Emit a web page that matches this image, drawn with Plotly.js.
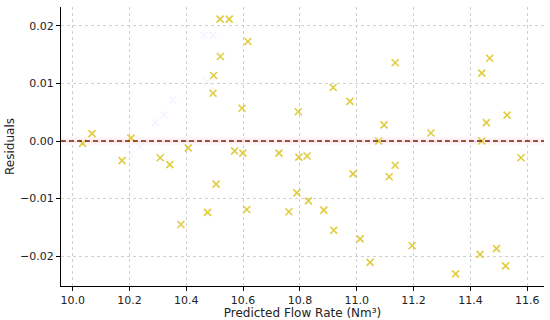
<!DOCTYPE html>
<html>
<head>
<meta charset="utf-8">
<script src="https://cdn.plot.ly/plotly-3.0.1.min.js"></script>
<style>body{margin:0;background:#fff}#chart{width:550px;height:320px}</style>
</head>
<body>
<div id="chart"></div>
<script>
// Predicted flow rate (x) and residuals (y)
const predicted = [10.035, 10.068, 10.205, 10.519, 10.551, 10.617, 10.520, 10.496, 10.494, 10.596,
  10.794, 10.917, 10.976, 11.135, 11.096, 11.261, 11.440, 11.468, 11.456, 11.529,
  11.077, 11.440, 10.174, 10.308, 10.342, 10.407, 10.570, 10.599, 10.726, 10.796,
  10.825, 10.505, 10.475, 10.613, 10.381, 10.761, 10.789, 10.830, 10.884, 10.919,
  10.987, 11.012, 11.047, 11.114, 11.135, 11.195, 11.348, 11.434, 11.492, 11.524, 11.578];
const residuals = [-0.0004, 0.0013, 0.0005, 0.0212, 0.0212, 0.0173, 0.0147, 0.0114, 0.0083, 0.0057,
  0.0051, 0.0093, 0.0069, 0.0136, 0.0028, 0.0014, 0.0118, 0.0144, 0.0032, 0.0045,
  0.0000, 0.0000, -0.0034, -0.0029, -0.0041, -0.0012, -0.0017, -0.0021, -0.0021, -0.0028,
  -0.0026, -0.0075, -0.0124, -0.0119, -0.0145, -0.0123, -0.0090, -0.0104, -0.0120, -0.0155,
  -0.0057, -0.0170, -0.0211, -0.0062, -0.0042, -0.0182, -0.0231, -0.0197, -0.0187, -0.0217, -0.0029];
// Faint background series
const fadedX = [10.461, 10.494, 10.473, 10.352, 10.322, 10.291, 10.238, 10.203];
const fadedY = [0.0184, 0.0184, 0.0103, 0.0072, 0.0045, 0.0032, -0.0010, -0.0023];
const xTicks = [10.0, 10.2, 10.4, 10.6, 10.8, 11.0, 11.2, 11.4, 11.6];
const yTicks = [-0.02, -0.01, 0.0, 0.01, 0.02];
const yTickText = ['\u22120.02', '\u22120.01', '0.00', '0.01', '0.02'];
const bandHalf = 0.0006;

const traces = [
  {x: fadedX, y: fadedY, mode: 'markers', type: 'scatter',
   marker: {symbol: 'x-thin', size: 7, line: {width: 1.5, color: 'rgba(215,225,255,0.3)'}},
   hoverinfo: 'skip', showlegend: false},
  {x: predicted, y: residuals, mode: 'markers', type: 'scatter',
   marker: {symbol: 'x-thin', size: 7, line: {width: 1.6, color: 'rgba(220,195,30,0.85)'}},
   showlegend: false}
];

const layout = {
  width: 550, height: 320,
  margin: {l: 61, r: 6, t: 7, b: 34},
  paper_bgcolor: '#fff', plot_bgcolor: '#fff',
  font: {family: 'DejaVu Sans', size: 11, color: '#222'},
  xaxis: {range: [9.959, 11.659], tickvals: xTicks, ticktext: xTicks.map(v => v.toFixed(1)),
    showgrid: true, gridcolor: '#d0d0d0', griddash: 'dot', gridwidth: 1,
    showline: true, linecolor: '#000', linewidth: 1, mirror: false,
    ticks: 'outside', ticklen: 4, tickcolor: '#000', zeroline: false,
    title: {text: 'Predicted Flow Rate (Nm\u00b3)', font: {size: 12}, standoff: 3}},
  yaxis: {range: [-0.0252, 0.0233], tickvals: yTicks, ticktext: yTickText,
    showgrid: true, gridcolor: '#d0d0d0', griddash: 'dot', gridwidth: 1,
    showline: true, linecolor: '#000', linewidth: 1, mirror: false,
    ticks: 'outside', ticklen: 4, tickcolor: '#000', zeroline: false,
    title: {text: 'Residuals', font: {size: 12}, standoff: 2}},
  shapes: [
    {type: 'rect', xref: 'paper', x0: 0, x1: 1, yref: 'y', y0: -bandHalf, y1: bandHalf,
     fillcolor: 'rgba(255,180,200,0.18)', line: {width: 0}, layer: 'below'},
    {type: 'line', xref: 'paper', x0: 0, x1: 1, yref: 'y', y0: 0, y1: 0,
     line: {color: '#7a2200', width: 1.5, dash: '5px,3px'}}
  ]
};
Plotly.newPlot('chart', traces, layout, {displayModeBar: false, staticPlot: true});
</script>
</body>
</html>
